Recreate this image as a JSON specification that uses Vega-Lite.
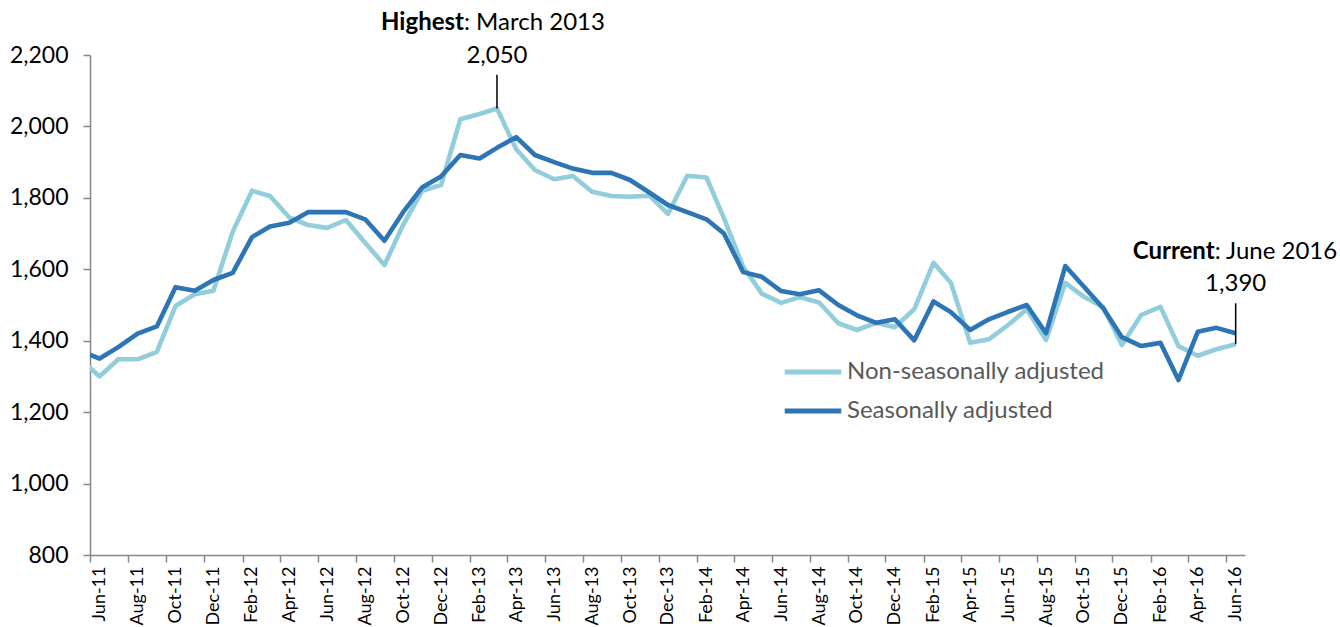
{
  "$schema": "https://vega.github.io/schema/vega-lite/v6.json",
  "width": 1155,
  "height": 500,
  "autosize": {"type": "none"},
  "padding": {"left": 90, "top": 55, "right": 95, "bottom": 72},
  "background": "white",
  "config": {
    "font": "Lato",
    "view": {"stroke": null},
    "axis": {"grid": false}
  },
  "datasets": {
    "series": [
      {"d": "2011-05-01", "Non-seasonally adjusted": 1348, "Seasonally adjusted": 1372},
      {"d": "2011-06-01", "Non-seasonally adjusted": 1300, "Seasonally adjusted": 1350},
      {"d": "2011-07-01", "Non-seasonally adjusted": 1348, "Seasonally adjusted": 1382},
      {"d": "2011-08-01", "Non-seasonally adjusted": 1348, "Seasonally adjusted": 1420},
      {"d": "2011-09-01", "Non-seasonally adjusted": 1369, "Seasonally adjusted": 1440},
      {"d": "2011-10-01", "Non-seasonally adjusted": 1497, "Seasonally adjusted": 1550},
      {"d": "2011-11-01", "Non-seasonally adjusted": 1530, "Seasonally adjusted": 1540},
      {"d": "2011-12-01", "Non-seasonally adjusted": 1540, "Seasonally adjusted": 1570},
      {"d": "2012-01-01", "Non-seasonally adjusted": 1705, "Seasonally adjusted": 1590},
      {"d": "2012-02-01", "Non-seasonally adjusted": 1820, "Seasonally adjusted": 1690},
      {"d": "2012-03-01", "Non-seasonally adjusted": 1805, "Seasonally adjusted": 1720},
      {"d": "2012-04-01", "Non-seasonally adjusted": 1745, "Seasonally adjusted": 1730},
      {"d": "2012-05-01", "Non-seasonally adjusted": 1724, "Seasonally adjusted": 1760},
      {"d": "2012-06-01", "Non-seasonally adjusted": 1716, "Seasonally adjusted": 1760},
      {"d": "2012-07-01", "Non-seasonally adjusted": 1738, "Seasonally adjusted": 1760},
      {"d": "2012-08-01", "Non-seasonally adjusted": 1674, "Seasonally adjusted": 1740},
      {"d": "2012-09-01", "Non-seasonally adjusted": 1612, "Seasonally adjusted": 1680},
      {"d": "2012-10-01", "Non-seasonally adjusted": 1724, "Seasonally adjusted": 1760},
      {"d": "2012-11-01", "Non-seasonally adjusted": 1820, "Seasonally adjusted": 1830},
      {"d": "2012-12-01", "Non-seasonally adjusted": 1836, "Seasonally adjusted": 1860},
      {"d": "2013-01-01", "Non-seasonally adjusted": 2020, "Seasonally adjusted": 1920},
      {"d": "2013-02-01", "Non-seasonally adjusted": 2035, "Seasonally adjusted": 1910},
      {"d": "2013-03-01", "Non-seasonally adjusted": 2050, "Seasonally adjusted": 1940},
      {"d": "2013-04-01", "Non-seasonally adjusted": 1936, "Seasonally adjusted": 1970},
      {"d": "2013-05-01", "Non-seasonally adjusted": 1878, "Seasonally adjusted": 1920},
      {"d": "2013-06-01", "Non-seasonally adjusted": 1852, "Seasonally adjusted": 1900},
      {"d": "2013-07-01", "Non-seasonally adjusted": 1861, "Seasonally adjusted": 1882},
      {"d": "2013-08-01", "Non-seasonally adjusted": 1817, "Seasonally adjusted": 1870},
      {"d": "2013-09-01", "Non-seasonally adjusted": 1805, "Seasonally adjusted": 1870},
      {"d": "2013-10-01", "Non-seasonally adjusted": 1803, "Seasonally adjusted": 1850},
      {"d": "2013-11-01", "Non-seasonally adjusted": 1806, "Seasonally adjusted": 1815},
      {"d": "2013-12-01", "Non-seasonally adjusted": 1755, "Seasonally adjusted": 1780},
      {"d": "2014-01-01", "Non-seasonally adjusted": 1862, "Seasonally adjusted": 1760},
      {"d": "2014-02-01", "Non-seasonally adjusted": 1857, "Seasonally adjusted": 1740},
      {"d": "2014-03-01", "Non-seasonally adjusted": 1743, "Seasonally adjusted": 1700},
      {"d": "2014-04-01", "Non-seasonally adjusted": 1607, "Seasonally adjusted": 1592},
      {"d": "2014-05-01", "Non-seasonally adjusted": 1532, "Seasonally adjusted": 1579},
      {"d": "2014-06-01", "Non-seasonally adjusted": 1506, "Seasonally adjusted": 1539},
      {"d": "2014-07-01", "Non-seasonally adjusted": 1522, "Seasonally adjusted": 1530},
      {"d": "2014-08-01", "Non-seasonally adjusted": 1507, "Seasonally adjusted": 1541},
      {"d": "2014-09-01", "Non-seasonally adjusted": 1449, "Seasonally adjusted": 1500},
      {"d": "2014-10-01", "Non-seasonally adjusted": 1430, "Seasonally adjusted": 1471},
      {"d": "2014-11-01", "Non-seasonally adjusted": 1450, "Seasonally adjusted": 1450},
      {"d": "2014-12-01", "Non-seasonally adjusted": 1438, "Seasonally adjusted": 1460},
      {"d": "2015-01-01", "Non-seasonally adjusted": 1488, "Seasonally adjusted": 1401},
      {"d": "2015-02-01", "Non-seasonally adjusted": 1618, "Seasonally adjusted": 1510},
      {"d": "2015-03-01", "Non-seasonally adjusted": 1562, "Seasonally adjusted": 1480},
      {"d": "2015-04-01", "Non-seasonally adjusted": 1394, "Seasonally adjusted": 1430},
      {"d": "2015-05-01", "Non-seasonally adjusted": 1404, "Seasonally adjusted": 1460},
      {"d": "2015-06-01", "Non-seasonally adjusted": 1444, "Seasonally adjusted": 1481},
      {"d": "2015-07-01", "Non-seasonally adjusted": 1488, "Seasonally adjusted": 1500},
      {"d": "2015-08-01", "Non-seasonally adjusted": 1402, "Seasonally adjusted": 1421},
      {"d": "2015-09-01", "Non-seasonally adjusted": 1562, "Seasonally adjusted": 1609},
      {"d": "2015-10-01", "Non-seasonally adjusted": 1523, "Seasonally adjusted": 1551},
      {"d": "2015-11-01", "Non-seasonally adjusted": 1494, "Seasonally adjusted": 1491},
      {"d": "2015-12-01", "Non-seasonally adjusted": 1388, "Seasonally adjusted": 1410},
      {"d": "2016-01-01", "Non-seasonally adjusted": 1472, "Seasonally adjusted": 1385},
      {"d": "2016-02-01", "Non-seasonally adjusted": 1495, "Seasonally adjusted": 1394},
      {"d": "2016-03-01", "Non-seasonally adjusted": 1385, "Seasonally adjusted": 1290},
      {"d": "2016-04-01", "Non-seasonally adjusted": 1358, "Seasonally adjusted": 1425},
      {"d": "2016-05-01", "Non-seasonally adjusted": 1376, "Seasonally adjusted": 1436},
      {"d": "2016-06-01", "Non-seasonally adjusted": 1390, "Seasonally adjusted": 1421}
    ],
    "notes": [
      {"d": "2013-03-01", "v": 2050, "top": 2145, "bold": "Highest", "rest": ": March 2013", "num": "2,050"},
      {"d": "2016-06-01", "v": 1390, "top": 1505, "bold": "Current", "rest": ": June 2016", "num": "1,390"}
    ]
  },
  "encoding": {
    "x": {
      "field": "d",
      "type": "temporal",
      "scale": {
        "type": "utc",
        "domain": [
          {"year": 2011, "month": 5, "date": 16, "hours": 12, "utc": true},
          {"year": 2016, "month": 6, "date": 16, "utc": true}
        ]
      },
      "axis": {
        "title": null,
        "values": [
          {"year": 2011, "month": 6, "date": 1, "utc": true},
          {"year": 2011, "month": 8, "date": 1, "utc": true},
          {"year": 2011, "month": 10, "date": 1, "utc": true},
          {"year": 2011, "month": 12, "date": 1, "utc": true},
          {"year": 2012, "month": 2, "date": 1, "utc": true},
          {"year": 2012, "month": 4, "date": 1, "utc": true},
          {"year": 2012, "month": 6, "date": 1, "utc": true},
          {"year": 2012, "month": 8, "date": 1, "utc": true},
          {"year": 2012, "month": 10, "date": 1, "utc": true},
          {"year": 2012, "month": 12, "date": 1, "utc": true},
          {"year": 2013, "month": 2, "date": 1, "utc": true},
          {"year": 2013, "month": 4, "date": 1, "utc": true},
          {"year": 2013, "month": 6, "date": 1, "utc": true},
          {"year": 2013, "month": 8, "date": 1, "utc": true},
          {"year": 2013, "month": 10, "date": 1, "utc": true},
          {"year": 2013, "month": 12, "date": 1, "utc": true},
          {"year": 2014, "month": 2, "date": 1, "utc": true},
          {"year": 2014, "month": 4, "date": 1, "utc": true},
          {"year": 2014, "month": 6, "date": 1, "utc": true},
          {"year": 2014, "month": 8, "date": 1, "utc": true},
          {"year": 2014, "month": 10, "date": 1, "utc": true},
          {"year": 2014, "month": 12, "date": 1, "utc": true},
          {"year": 2015, "month": 2, "date": 1, "utc": true},
          {"year": 2015, "month": 4, "date": 1, "utc": true},
          {"year": 2015, "month": 6, "date": 1, "utc": true},
          {"year": 2015, "month": 8, "date": 1, "utc": true},
          {"year": 2015, "month": 10, "date": 1, "utc": true},
          {"year": 2015, "month": 12, "date": 1, "utc": true},
          {"year": 2016, "month": 2, "date": 1, "utc": true},
          {"year": 2016, "month": 4, "date": 1, "utc": true},
          {"year": 2016, "month": 6, "date": 1, "utc": true}
        ],
        "labelExpr": "utcFormat(datum.value, '%b-%y')",
        "labelAngle": -90,
        "labelFlush": false,
        "labelOverlap": false,
        "labelBound": false,
        "labelFontSize": 18,
        "labelColor": "#000000",
        "labelPadding": 4,
        "tickOffset": -9.45,
        "labelOffset": 9.45,
        "tickSize": 7,
        "tickColor": "#878787",
        "tickWidth": 1.5,
        "domainColor": "#878787",
        "domainWidth": 1.5
      }
    }
  },
  "layer": [
    {
      "data": {"name": "series"},
      "transform": [
        {"fold": ["Non-seasonally adjusted", "Seasonally adjusted"], "as": ["series", "value"]}
      ],
      "mark": {"type": "line", "strokeWidth": 4.6, "clip": true, "strokeJoin": "round"},
      "encoding": {
        "y": {
          "field": "value",
          "type": "quantitative",
          "scale": {"domain": [800, 2200], "nice": false, "zero": false},
          "axis": {
            "title": null,
            "values": [800, 1000, 1200, 1400, 1600, 1800, 2000, 2200],
            "format": ",d",
            "labelFontSize": 23,
            "labelColor": "#000000",
            "labelPadding": 15,
            "tickSize": 7,
            "tickColor": "#878787",
            "tickWidth": 1.5,
            "domainColor": "#878787",
            "domainWidth": 1.5
          }
        },
        "color": {
          "field": "series",
          "type": "nominal",
          "scale": {
            "domain": ["Non-seasonally adjusted", "Seasonally adjusted"],
            "range": ["#92CDDC", "#2E75B6"]
          },
          "legend": {
            "title": null,
            "orient": "none",
            "legendX": 706,
            "legendY": 300,
            "padding": 0,
            "symbolType": "M-2,0H2",
            "symbolSize": 800,
            "symbolStrokeWidth": 5,
            "labelFontSize": 24,
            "labelLimit": 500,
            "labelColor": "#595959",
            "labelOffset": 17,
            "rowPadding": 10
          }
        }
      }
    },
    {
      "data": {"name": "notes"},
      "mark": {"type": "rule", "color": "#000000", "strokeWidth": 1.5},
      "encoding": {
        "y": {"field": "v", "type": "quantitative"},
        "y2": {"field": "top"}
      }
    },
    {
      "data": {"name": "notes"},
      "mark": {"type": "text", "fontSize": 24, "color": "#000000", "align": "center", "baseline": "middle", "dy": -19},
      "encoding": {
        "y": {"field": "top", "type": "quantitative"},
        "text": {"field": "num"}
      }
    },
    {
      "data": {"name": "notes"},
      "transform": [{"filter": "datum.bold == 'Highest'"}],
      "mark": {"type": "text", "fontSize": 24, "fontWeight": "bold", "color": "#000000", "align": "right", "baseline": "middle", "dy": -52, "dx": -33},
      "encoding": {
        "y": {"field": "top", "type": "quantitative"},
        "text": {"field": "bold"}
      }
    },
    {
      "data": {"name": "notes"},
      "transform": [{"filter": "datum.bold == 'Highest'"}],
      "mark": {"type": "text", "fontSize": 24, "color": "#000000", "align": "left", "baseline": "middle", "dy": -52, "dx": -33},
      "encoding": {
        "y": {"field": "top", "type": "quantitative"},
        "text": {"field": "rest"}
      }
    },
    {
      "data": {"name": "notes"},
      "transform": [{"filter": "datum.bold == 'Current'"}],
      "mark": {"type": "text", "fontSize": 24, "fontWeight": "bold", "color": "#000000", "align": "right", "baseline": "middle", "dy": -51, "dx": -21},
      "encoding": {
        "y": {"field": "top", "type": "quantitative"},
        "text": {"field": "bold"}
      }
    },
    {
      "data": {"name": "notes"},
      "transform": [{"filter": "datum.bold == 'Current'"}],
      "mark": {"type": "text", "fontSize": 24, "color": "#000000", "align": "left", "baseline": "middle", "dy": -51, "dx": -21},
      "encoding": {
        "y": {"field": "top", "type": "quantitative"},
        "text": {"field": "rest"}
      }
    }
  ]
}
